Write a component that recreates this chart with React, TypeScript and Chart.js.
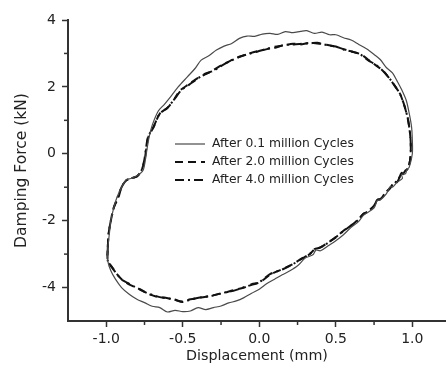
import React, { useEffect, useRef } from "react";
import { Chart, registerables } from "chart.js";

Chart.register(...registerables);

// ---- Data ----
const seriesLabels = [
  "After 0.1 million Cycles",
  "After 2.0 million Cycles",
  "After 4.0 million Cycles",
];

const disp01 = [
  -0.99, -0.98, -0.97, -0.95, -0.93, -0.9, -0.87, -0.84, -0.8, -0.76, -0.745, -0.735, -0.72, -0.7, -0.66, -0.62,
  -0.58, -0.53, -0.47, -0.42, -0.38, -0.33, -0.28, -0.23, -0.18, -0.13, -0.08, -0.03, 0.02, 0.07, 0.12, 0.17,
  0.22, 0.27, 0.31, 0.36, 0.41, 0.46, 0.5, 0.55, 0.6, 0.65, 0.7, 0.75, 0.79, 0.83, 0.87, 0.9, 0.93, 0.96,
  0.98, 0.995, 1.0, 1.0, 0.98, 0.965, 0.955, 0.93, 0.935, 0.9, 0.87, 0.855, 0.83, 0.79, 0.77, 0.75, 0.7, 0.68, 0.65, 0.6, 0.55, 0.5, 0.45,
  0.4, 0.37, 0.35, 0.3, 0.25, 0.2, 0.15, 0.1, 0.05, 0.0, -0.05, -0.1, -0.15, -0.2, -0.25, -0.3, -0.35, -0.4, -0.45,
  -0.5, -0.55, -0.6, -0.65, -0.7, -0.75, -0.8, -0.85, -0.9, -0.94, -0.97, -0.99, -0.99,
];
const force01 = [
  -2.8, -2.4, -2.0, -1.6, -1.3, -1.0, -0.78, -0.74, -0.66, -0.5, -0.2, 0.1, 0.5, 0.85, 1.28, 1.48,
  1.7, 2.0, 2.3, 2.55, 2.8, 2.93, 3.1, 3.22, 3.3, 3.45, 3.52, 3.51, 3.58, 3.6, 3.57, 3.65,
  3.62, 3.66, 3.68, 3.6, 3.64, 3.56, 3.56, 3.47, 3.4, 3.27, 3.14, 2.97, 2.82, 2.58, 2.42, 2.18, 1.92, 1.6,
  1.2, 0.8, 0.4, 0.0, -0.4, -0.47, -0.6, -0.62, -0.74, -0.85, -1.0, -0.98, -1.2, -1.38, -1.4, -1.62, -1.78, -1.84, -2.02, -2.2, -2.42, -2.6, -2.75,
  -2.9, -2.88, -3.02, -3.12, -3.35, -3.5, -3.62, -3.75, -3.88, -4.05, -4.17, -4.3, -4.4, -4.46, -4.55, -4.6, -4.66, -4.6, -4.7,
  -4.72, -4.68, -4.73, -4.6, -4.56, -4.45, -4.35, -4.2, -4.0, -3.75, -3.5, -3.2, -2.8,
];

const disp20 = [
  -0.99, -0.985, -0.97, -0.95, -0.92, -0.9, -0.87, -0.83, -0.8, -0.77, -0.75, -0.74, -0.725, -0.69, -0.65, -0.6,
  -0.56, -0.52, -0.46, -0.4, -0.35, -0.3, -0.25, -0.19, -0.14, -0.08, -0.01, 0.05, 0.1, 0.16, 0.22, 0.27,
  0.32, 0.38, 0.44, 0.5, 0.55, 0.6, 0.66, 0.71, 0.76, 0.81, 0.85, 0.89, 0.92, 0.95, 0.97, 0.985, 0.99, 0.985,
  0.97, 0.955, 0.94, 0.93, 0.9, 0.88, 0.86, 0.83, 0.79, 0.77, 0.75, 0.7, 0.68, 0.65, 0.6, 0.55, 0.5, 0.45, 0.4, 0.36, 0.33, 0.27, 0.22,
  0.15, 0.07, 0.0, -0.05, -0.1, -0.17, -0.25, -0.32, -0.38, -0.45, -0.5, -0.56, -0.62, -0.68, -0.73, -0.78, -0.83, -0.86,
  -0.9, -0.93, -0.96, -0.99, -0.99,
];
const force20 = [
  -2.8, -2.4, -2.0, -1.6, -1.3, -1.0, -0.8, -0.72, -0.68, -0.5, -0.2, 0.1, 0.5, 0.8, 1.2, 1.37,
  1.6, 1.88, 2.08, 2.27, 2.38, 2.5, 2.64, 2.78, 2.88, 2.98, 3.07, 3.13, 3.2, 3.24, 3.29, 3.27,
  3.31, 3.3, 3.26, 3.2, 3.13, 3.06, 2.98, 2.82, 2.65, 2.48, 2.25, 2.0, 1.79, 1.4, 1.07, 0.6, 0.2, -0.2,
  -0.45, -0.5, -0.6, -0.58, -0.85, -0.83, -1.0, -1.15, -1.36, -1.37, -1.55, -1.76, -1.8, -1.95, -2.15, -2.3, -2.5, -2.65, -2.8, -2.86, -3.0, -3.15, -3.3,
  -3.45, -3.62, -3.85, -3.9, -4.0, -4.08, -4.18, -4.25, -4.3, -4.35, -4.42, -4.36, -4.3, -4.26, -4.18, -4.05, -3.95, -3.88,
  -3.75, -3.6, -3.4, -3.2, -2.8,
];

const disp40 = [
  -0.99, -0.985, -0.97, -0.95, -0.925, -0.9, -0.87, -0.83, -0.8, -0.77, -0.752, -0.742, -0.727, -0.69, -0.65, -0.6,
  -0.56, -0.51, -0.46, -0.4, -0.35, -0.3, -0.24, -0.19, -0.13, -0.08, -0.01, 0.05, 0.11, 0.16, 0.22, 0.28,
  0.33, 0.38, 0.44, 0.5, 0.55, 0.61, 0.66, 0.71, 0.76, 0.81, 0.85, 0.89, 0.92, 0.95, 0.97, 0.985, 0.99, 0.985,
  0.97, 0.955, 0.94, 0.93, 0.9, 0.88, 0.86, 0.83, 0.79, 0.77, 0.75, 0.7, 0.68, 0.65, 0.6, 0.55, 0.5, 0.45, 0.4, 0.36, 0.33, 0.27, 0.22,
  0.15, 0.07, 0.0, -0.05, -0.1, -0.17, -0.25, -0.32, -0.38, -0.45, -0.5, -0.56, -0.62, -0.68, -0.73, -0.78, -0.83, -0.86,
  -0.9, -0.93, -0.96, -0.99, -0.99,
];
const force40 = [
  -2.8, -2.4, -2.0, -1.6, -1.3, -1.0, -0.8, -0.72, -0.68, -0.5, -0.2, 0.1, 0.5, 0.82, 1.2, 1.38,
  1.6, 1.9, 2.06, 2.26, 2.4, 2.48, 2.65, 2.77, 2.9, 2.97, 3.06, 3.14, 3.18, 3.25, 3.27, 3.29,
  3.3, 3.32, 3.25, 3.21, 3.12, 3.05, 2.97, 2.8, 2.66, 2.47, 2.26, 2.0, 1.78, 1.42, 1.05, 0.62, 0.2, -0.2,
  -0.44, -0.51, -0.61, -0.57, -0.84, -0.84, -1.0, -1.14, -1.35, -1.38, -1.56, -1.75, -1.79, -1.96, -2.14, -2.31, -2.49, -2.66, -2.8, -2.85, -2.99, -3.16, -3.3,
  -3.46, -3.6, -3.84, -3.92, -3.99, -4.1, -4.17, -4.26, -4.29, -4.36, -4.43, -4.35, -4.31, -4.25, -4.17, -4.06, -3.94, -3.86,
  -3.76, -3.6, -3.42, -3.2, -2.8,
];

const xMajorTicks = [-1.0, -0.5, 0.0, 0.5, 1.0];
const xMinorTicks = [-0.75, -0.25, 0.25, 0.75];
const yMajorTicks = [-4, -2, 0, 2, 4];
const yMinorTicks = [-3, -1, 1, 3];

const xTitle = "Displacement (mm)";
const yTitle = "Damping Force (kN)";

const FONT = '"DejaVu Sans", sans-serif';
const AXIS_COLOR = "#333";
const TEXT_COLOR = "#222";

function toPoints(xs: number[], ys: number[]) {
  return xs.map((x, i) => ({ x, y: ys[i] }));
}

const minorTickPlugin = {
  id: "minorTicks",
  afterDraw(chart: any) {
    const { ctx } = chart;
    const xs = chart.scales.x;
    const ys = chart.scales.y;
    ctx.save();
    ctx.strokeStyle = AXIS_COLOR;
    ctx.lineWidth = 1.5;
    xMinorTicks.forEach((v) => {
      const px = xs.getPixelForValue(v);
      ctx.beginPath();
      ctx.moveTo(px, xs.top);
      ctx.lineTo(px, xs.top + 4);
      ctx.stroke();
    });
    yMinorTicks.forEach((v) => {
      const py = ys.getPixelForValue(v);
      ctx.beginPath();
      ctx.moveTo(ys.right, py);
      ctx.lineTo(ys.right - 4, py);
      ctx.stroke();
    });
    ctx.restore();
  },
};

const innerLegendPlugin = {
  id: "innerLegend",
  afterDatasetsDraw(chart: any) {
    const { ctx, chartArea } = chart;
    const x0 = chartArea.left + 107;
    const y0 = chartArea.top + 124;
    chart.data.datasets.forEach((ds: any, i: number) => {
      const y = y0 + i * 18;
      ctx.save();
      ctx.strokeStyle = ds.borderColor;
      ctx.lineWidth = ds.borderWidth;
      ctx.setLineDash(ds.borderDash || []);
      ctx.beginPath();
      ctx.moveTo(x0, y);
      ctx.lineTo(x0 + 30, y);
      ctx.stroke();
      ctx.setLineDash([]);
      ctx.fillStyle = TEXT_COLOR;
      ctx.font = `12.3px ${FONT}`;
      ctx.textBaseline = "middle";
      ctx.textAlign = "left";
      ctx.fillText(ds.label, x0 + 37, y);
      ctx.restore();
    });
  },
};

export default function App() {
  const canvasRef = useRef<HTMLCanvasElement | null>(null);

  useEffect(() => {
    document.body.style.margin = "0";
    const canvas = canvasRef.current;
    if (!canvas) return;
    const chart = new Chart(canvas, {
      type: "scatter",
      data: {
        datasets: [
          {
            label: seriesLabels[0],
            data: toPoints(disp01, force01),
            showLine: true,
            borderColor: "#4a4a4a",
            borderWidth: 1.2,
            pointRadius: 0,
            tension: 0.3,
          },
          {
            label: seriesLabels[1],
            data: toPoints(disp20, force20),
            showLine: true,
            borderColor: "#111",
            borderWidth: 2,
            borderDash: [8, 5],
            pointRadius: 0,
            tension: 0.3,
          },
          {
            label: seriesLabels[2],
            data: toPoints(disp40, force40),
            showLine: true,
            borderColor: "#111",
            borderWidth: 2,
            borderDash: [9, 4, 2, 4],
            pointRadius: 0,
            tension: 0.3,
          },
        ] as any,
      },
      options: {
        responsive: false,
        animation: false,
        layout: { padding: { top: 20, left: 0, right: 0, bottom: 0 } },
        plugins: {
          legend: { display: false },
          tooltip: { enabled: false },
        },
        scales: {
          x: {
            type: "linear",
            min: -1.25,
            max: 1.22,
            afterBuildTicks: (scale: any) => {
              scale.ticks = xMajorTicks.map((v) => ({ value: v }));
            },
            afterFit: (scale: any) => {
              scale.height = 53;
            },
            ticks: {
              color: TEXT_COLOR,
              font: { family: FONT, size: 14 },
              padding: 4,
              maxRotation: 0,
              autoSkip: false,
              callback: (v: any) => Number(v).toFixed(1),
            },
            grid: {
              drawOnChartArea: false,
              drawTicks: true,
              tickLength: 6,
              tickWidth: 1.5,
              tickColor: AXIS_COLOR,
            },
            border: { display: true, color: AXIS_COLOR, width: 2 },
            title: {
              display: true,
              text: xTitle,
              color: TEXT_COLOR,
              font: { family: FONT, size: 14.3 },
              padding: { top: 0, bottom: 9 },
            },
          },
          y: {
            type: "linear",
            min: -5,
            max: 4,
            afterBuildTicks: (scale: any) => {
              scale.ticks = yMajorTicks.map((v) => ({ value: v }));
            },
            afterFit: (scale: any) => {
              scale.width = 68;
            },
            ticks: {
              color: TEXT_COLOR,
              font: { family: FONT, size: 14 },
              padding: 6,
              autoSkip: false,
              callback: (v: any) => String(v),
            },
            grid: {
              drawOnChartArea: false,
              drawTicks: true,
              tickLength: 6,
              tickWidth: 1.5,
              tickColor: AXIS_COLOR,
            },
            border: { display: true, color: AXIS_COLOR, width: 2 },
            title: {
              display: true,
              text: yTitle,
              color: TEXT_COLOR,
              font: { family: FONT, size: 15.5 },
              padding: { top: 12.7, bottom: 0 },
            },
          },
        },
      } as any,
      plugins: [minorTickPlugin, innerLegendPlugin],
    });
    return () => chart.destroy();
  }, []);

  return (
    <div style={{ width: 446, height: 374, background: "#fff" }}>
      <canvas ref={canvasRef} width={446} height={374} style={{ display: "block" }} />
    </div>
  );
}
